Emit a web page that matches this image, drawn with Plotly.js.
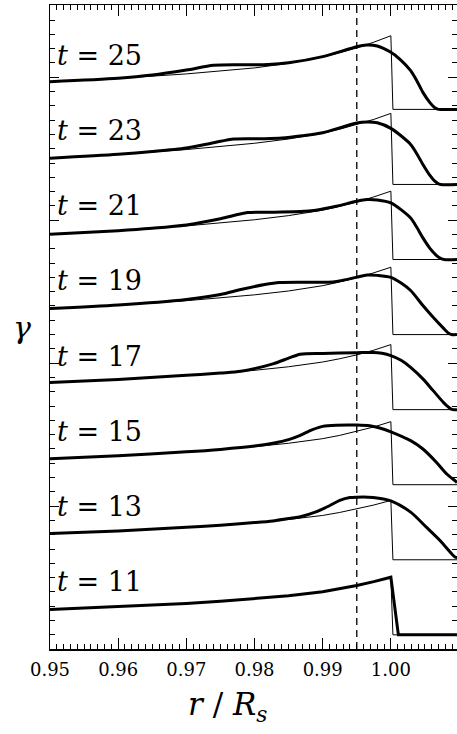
<!DOCTYPE html>
<html>
<head>
<meta charset="utf-8">
<script src="https://cdn.plot.ly/plotly-3.0.1.min.js"></script>
<style>
  html, body { margin: 0; padding: 0; background: white; }
  #graph { width: 457px; height: 734px; }
</style>
</head>
<body>
<div id="graph"></div>
<script>
// times of the snapshots and vertical offset of each one
var times = [11, 13, 15, 17, 19, 21, 23, 25];
var offsets = [0, 5.25, 10.5, 15.75, 21, 26.25, 31.5, 36.75];
var dashedR = 0.995;

// thin curves (analytic), common r grid
var thinR = [0.95, 0.96, 0.97, 0.975, 0.98, 0.985, 0.99, 0.9925, 0.995, 0.9975, 1.0, 1.0003, 1.0097];
var thin11 = [1.77, 1.96, 2.20, 2.35, 2.52, 2.73, 3.01, 3.21, 3.45, 3.72, 4.03, 0, 0];
var thin13 = [1.84, 2.02, 2.27, 2.42, 2.60, 2.82, 3.10, 3.31, 3.55, 3.83, 4.15, 0, 0];
var thin15 = [1.82, 2.03, 2.30, 2.47, 2.66, 2.90, 3.22, 3.45, 3.72, 4.04, 4.41, 0, 0];
var thin17 = [1.89, 2.10, 2.38, 2.55, 2.75, 3.00, 3.33, 3.56, 3.83, 4.16, 4.55, 0, 0];
var thin19 = [1.82, 2.06, 2.37, 2.56, 2.78, 3.05, 3.42, 3.68, 3.97, 4.32, 4.71, 0, 0];
var thin21 = [1.77, 2.02, 2.35, 2.55, 2.78, 3.07, 3.45, 3.72, 4.02, 4.38, 4.78, 0, 0];
var thin23 = [1.84, 2.10, 2.44, 2.65, 2.88, 3.18, 3.58, 3.86, 4.18, 4.55, 4.97, 0, 0];
var thin25 = [1.94, 2.17, 2.48, 2.68, 2.90, 3.22, 3.67, 3.96, 4.30, 4.70, 5.15, 0, 0];

// thick curves (simulation)
var thickX11 = [0.95, 0.96, 0.97, 0.975, 0.98, 0.985, 0.99, 0.9925, 0.995, 0.9975, 1.0, 1.0011, 1.0097];
var thickY11 = [1.77, 1.96, 2.20, 2.35, 2.52, 2.73, 3.01, 3.21, 3.45, 3.72, 4.03, 0, 0];
var thickX13 = [0.95, 0.96, 0.97, 0.975, 0.98, 0.9827, 0.985, 0.987, 0.989, 0.991, 0.9925, 0.994, 0.995, 0.9974, 1.0, 1.0029, 1.0052, 1.0072, 1.0094, 1.0097];
var thickY13 = [1.84, 2.02, 2.27, 2.42, 2.60, 2.72, 2.88, 3.05, 3.35, 3.78, 4.15, 4.35, 4.38, 4.36, 4.12, 3.33, 2.28, 1.35, 0.19, 0.15];
var thickX15 = [0.95, 0.96, 0.97, 0.975, 0.98, 0.9827, 0.985, 0.9867, 0.9885, 0.990, 0.992, 0.995, 0.9969, 0.9985, 1.0, 1.0029, 1.0047, 1.0067, 1.0082, 1.0094, 1.0097];
var thickY15 = [1.82, 2.03, 2.30, 2.47, 2.70, 2.90, 3.15, 3.45, 3.85, 4.08, 4.16, 4.17, 4.12, 3.95, 3.70, 3.08, 2.50, 1.56, 0.75, 0.28, 0.15];
var thickX17 = [0.95, 0.96, 0.97, 0.975, 0.978, 0.9827, 0.985, 0.9867, 0.99, 0.995, 0.9974, 0.9987, 1.0, 1.0015, 1.0029, 1.0047, 1.0062, 1.0077, 1.0086, 1.0091, 1.0097];
var thickY17 = [1.89, 2.11, 2.40, 2.56, 2.68, 3.20, 3.60, 3.88, 3.93, 3.98, 4.00, 3.94, 3.78, 3.45, 2.96, 2.15, 1.33, 0.51, 0.12, 0, 0];
var thickX19 = [0.95, 0.96, 0.97, 0.975, 0.978, 0.9815, 0.9837, 0.988, 0.9915, 0.993, 0.995, 0.9965, 0.998, 1.0, 1.0015, 1.0029, 1.0047, 1.0062, 1.0077, 1.0084, 1.0089, 1.0097];
var thickY19 = [1.82, 2.06, 2.45, 2.80, 3.15, 3.50, 3.64, 3.66, 3.68, 3.80, 4.02, 4.17, 4.14, 4.00, 3.60, 3.08, 2.03, 1.21, 0.45, 0.12, 0, 0];
var thickX21 = [0.95, 0.96, 0.965, 0.97, 0.975, 0.979, 0.983, 0.9867, 0.989, 0.992, 0.995, 0.9965, 0.998, 1.0, 1.0029, 1.0038, 1.0047, 1.0057, 1.0067, 1.0073, 1.0078, 1.0097];
var thickY21 = [1.77, 2.02, 2.19, 2.42, 2.85, 3.28, 3.31, 3.35, 3.45, 3.72, 4.08, 4.20, 4.17, 3.96, 2.91, 2.25, 1.51, 0.80, 0.28, 0.08, 0, 0];
var thickX23 = [0.95, 0.96, 0.965, 0.97, 0.974, 0.977, 0.981, 0.984, 0.987, 0.99, 0.995, 0.9965, 0.998, 1.0, 1.0029, 1.0038, 1.0047, 1.0057, 1.0064, 1.0069, 1.0073, 1.0097];
var thickY23 = [1.84, 2.11, 2.30, 2.55, 2.92, 3.18, 3.20, 3.24, 3.40, 3.62, 4.30, 4.36, 4.31, 3.92, 2.80, 2.15, 1.40, 0.65, 0.25, 0.07, 0, 0];
var thickX25 = [0.95, 0.96, 0.965, 0.97, 0.974, 0.978, 0.982, 0.985, 0.99, 0.995, 0.9964, 0.998, 1.0, 1.0013, 1.0029, 1.0038, 1.0047, 1.0057, 1.0063, 1.0067, 1.0070, 1.0097];
var thickY25 = [1.94, 2.18, 2.40, 2.75, 3.08, 3.12, 3.14, 3.26, 3.69, 4.38, 4.50, 4.43, 3.99, 3.52, 2.71, 2.01, 1.19, 0.49, 0.18, 0.05, 0, 0];

var thinY = [thin11, thin13, thin15, thin17, thin19, thin21, thin23, thin25];
var thickX = [thickX11, thickX13, thickX15, thickX17, thickX19, thickX21, thickX23, thickX25];
var thickY = [thickY11, thickY13, thickY15, thickY17, thickY19, thickY21, thickY23, thickY25];

var serif = "DejaVu Serif";

var traces = [];
var annotations = [];
for (var i = 0; i < times.length; i++) {
  var off = offsets[i];
  traces.push({
    type: "scatter",
    mode: "lines",
    x: thinR,
    y: thinY[i].map(function (v) { return v + off; }),
    line: { width: 1, color: "black" },
    hoverinfo: "skip",
  });
  traces.push({
    type: "scatter",
    mode: "lines",
    x: thickX[i],
    y: thickY[i].map(function (v) { return v + off; }),
    line: { width: 3, color: "black", shape: times[i] === 11 ? "linear" : "spline", smoothing: 0.8 },
    hoverinfo: "skip",
  });
  annotations.push({
    xref: "x",
    yref: "y",
    x: 0.9508,
    y: off + 3.75,
    xanchor: "left",
    yanchor: "middle",
    showarrow: false,
    text: "<i>t</i> = " + times[i],
    font: { family: serif, size: 27, color: "black" },
  });
}

// axis labels
annotations.push({
  xref: "paper",
  yref: "paper",
  x: -0.068,
  y: 0.5,
  xanchor: "center",
  yanchor: "middle",
  showarrow: false,
  text: "<i>γ</i>",
  font: { family: serif, size: 30, color: "black" },
});
annotations.push({
  xref: "paper",
  yref: "paper",
  x: 0.437,
  y: -0.09,
  xanchor: "center",
  yanchor: "middle",
  showarrow: false,
  text: "<i>r</i> / <i>R<sub>s</sub></i>",
  font: { family: serif, size: 31, color: "black" },
});

var layout = {
  width: 457,
  height: 734,
  margin: { l: 50, r: 0, t: 5, b: 85 },
  paper_bgcolor: "white",
  plot_bgcolor: "white",
  showlegend: false,
  font: { family: serif, color: "black" },
  xaxis: {
    range: [0.95, 1.0097],
    tickmode: "linear",
    tick0: 0.95,
    dtick: 0.01,
    tickformat: ".2f",
    ticks: "inside",
    ticklen: 11,
    tickwidth: 1,
    tickcolor: "black",
    ticklabelstandoff: 4,
    minor: { ticks: "inside", dtick: 0.001, tick0: 0.95, ticklen: 5, tickcolor: "black", tickwidth: 1 },
    showline: true,
    linecolor: "black",
    linewidth: 1.5,
    mirror: "ticks",
    showgrid: false,
    zeroline: false,
    tickfont: { family: serif, size: 18, color: "black" },
  },
  yaxis: {
    range: [-0.99, 44.05],
    tickmode: "linear",
    tick0: 9,
    dtick: 10,
    showticklabels: false,
    ticks: "inside",
    ticklen: 9,
    tickwidth: 1,
    tickcolor: "black",
    minor: { ticks: "inside", dtick: 1, tick0: 0, ticklen: 5, tickcolor: "black", tickwidth: 1 },
    showline: true,
    linecolor: "black",
    linewidth: 1.5,
    mirror: "ticks",
    showgrid: false,
    zeroline: false,
  },
  shapes: [
    {
      type: "line",
      xref: "x",
      yref: "paper",
      x0: dashedR,
      x1: dashedR,
      y0: 0,
      y1: 1,
      line: { color: "black", width: 1.3, dash: "7px,5px" },
    },
  ],
  annotations: annotations,
};

var config = { staticPlot: true, displayModeBar: false };

Plotly.newPlot("graph", traces, layout, config);
</script>
</body>
</html>
